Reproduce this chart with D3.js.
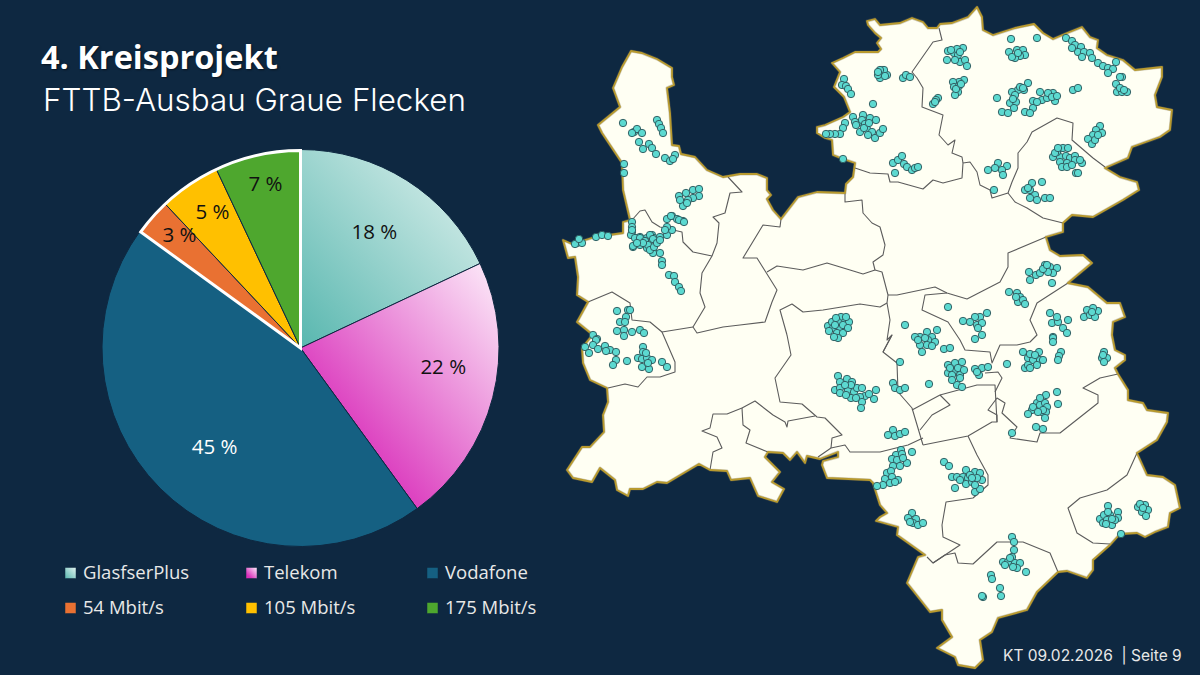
<!DOCTYPE html>
<html lang="de"><head><meta charset="utf-8">
<script src="https://cdnjs.cloudflare.com/ajax/libs/d3/7.8.5/d3.min.js"></script>
<style>html,body{margin:0;padding:0;background:#0E2841;overflow:hidden}svg{display:block}</style>
</head><body><svg id="c" width="1200" height="675"></svg>
<script>
const categories=["GlasfserPlus","Telekom","Vodafone","54 Mbit/s","105 Mbit/s","175 Mbit/s"];
const shares=[18,22,45,3,5,7];
const titleLine="4. Kreisprojekt";
const subtitleLine="FTTB-Ausbau Graue Flecken";
const footerLine="KT 09.02.2026  | Seite 9";

const mapOutline=[[631,51],[642,53],[657,59],[672,68],[672,77],[674,85],[667,88],[670,113],[672,145],[679,146],[681,154],[695,157],[707,170],[723,177],[740,174],[757,174],[767,178],[767,190],[771,195],[767,199],[773,210],[781,219],[798,197],[817,192],[845,193],[846,184],[853,177],[855,163],[843,159],[833,155],[832,140],[825,138],[817,133],[817,127],[825,125],[843,117],[850,112],[844,97],[834,87],[840,72],[832,63],[843,58],[855,52],[878,52],[881,49],[877,43],[881,38],[875,33],[868,25],[867,21],[875,19],[880,25],[900,23],[912,18],[923,22],[928,28],[937,28],[940,24],[952,23],[968,17],[977,7],[982,17],[983,30],[993,35],[1015,28],[1034,24],[1043,33],[1053,39],[1067,33],[1082,27],[1090,37],[1098,40],[1097,48],[1107,55],[1123,60],[1135,70],[1162,67],[1162,77],[1155,95],[1157,107],[1172,110],[1170,130],[1160,137],[1132,147],[1128,158],[1105,168],[1120,177],[1137,182],[1139,190],[1123,200],[1093,217],[1072,215],[1063,223],[1063,232],[1046,237],[1050,250],[1060,256],[1083,255],[1092,263],[1068,283],[1088,287],[1107,303],[1120,303],[1125,317],[1113,322],[1112,335],[1115,350],[1125,355],[1125,360],[1115,368],[1118,374],[1128,390],[1128,400],[1143,403],[1147,410],[1168,413],[1167,422],[1157,440],[1137,453],[1147,475],[1163,477],[1175,485],[1180,508],[1170,513],[1168,527],[1155,532],[1145,537],[1137,533],[1120,534],[1110,545],[1093,560],[1093,570],[1087,578],[1067,571],[1058,572],[1037,592],[1027,610],[998,618],[992,632],[980,640],[983,660],[975,668],[958,665],[955,657],[937,648],[952,637],[942,620],[942,610],[930,612],[907,583],[918,557],[925,555],[897,535],[898,527],[880,522],[876,521],[880,517],[887,513],[880,505],[873,483],[870,480],[827,478],[822,465],[823,461],[838,457],[838,452],[820,459],[807,456],[805,463],[797,452],[790,460],[783,453],[768,452],[765,457],[780,472],[772,482],[784,489],[777,502],[758,496],[750,478],[731,480],[727,471],[710,470],[699,464],[667,483],[657,482],[643,489],[630,489],[628,496],[617,490],[615,480],[600,468],[592,482],[573,478],[567,470],[582,447],[590,447],[604,432],[603,415],[608,402],[607,388],[590,380],[583,363],[582,348],[590,338],[593,335],[577,322],[588,302],[577,295],[578,277],[575,257],[568,258],[563,240],[572,244],[595,237],[623,233],[623,222],[630,220],[623,190],[622,163],[602,133],[598,125],[620,107],[613,88],[622,67]];

const districtA=[[728,177],[742,192],[730,193],[725,213],[713,217],[719,223],[717,243],[712,256],[702,273],[700,293],[705,307],[693,327],[697,333],[723,327],[740,325],[765,322],[772,302],[777,290],[757,258],[743,258],[763,225],[780,227],[781,219]];
const districtB=[[712,256],[693,252],[683,242],[682,232],[660,227],[652,222],[645,210],[640,211],[632,220]];
const districtC=[[588,302],[612,292],[630,303],[632,320],[650,322],[662,332],[693,327]];
const districtC2=[[662,332],[675,362],[675,372],[660,377],[647,377],[638,387],[625,384],[608,388]];
const districtD=[[767,272],[777,266],[803,270],[827,263],[850,270],[863,274],[875,270],[882,272],[888,295],[887,303],[890,320],[887,340],[892,335],[883,352],[897,363],[898,392],[912,408],[923,445]];
const districtE=[[845,193],[845,202],[862,200],[863,213],[872,223],[880,227],[885,245],[883,255],[873,262],[875,270]];
const districtF=[[855,168],[870,173],[888,174],[890,182],[898,182],[923,189],[933,180],[943,183],[962,178],[963,163],[970,162],[977,172],[980,185],[990,190],[992,198],[1008,193],[1012,182],[1018,168],[1018,153],[1027,142],[1032,132],[1057,118],[1073,123],[1072,140],[1093,158],[1105,167]];
const districtG=[[963,163],[962,157],[952,153],[955,140],[948,145],[939,135],[943,115],[922,107],[923,88],[917,78],[912,72],[933,42],[942,40],[939,28]];
const districtH=[[1008,193],[1015,202],[1027,208],[1043,218],[1063,223]];
const districtI=[[1046,237],[1008,253],[1008,267],[1000,282],[967,299],[947,293],[935,287],[897,295],[888,295]];
const districtJ=[[947,293],[925,295],[922,310],[948,322],[960,340],[965,350],[990,352],[992,363],[1000,345],[1017,345],[1030,342],[1037,335],[1030,320],[1037,303],[1068,283]];
const districtK=[[923,445],[968,436],[992,422],[997,422],[995,385],[977,385],[940,395],[912,410]];
const districtL=[[940,395],[950,405],[932,415],[920,430]];
const districtM=[[923,438],[908,445],[880,452],[850,452],[845,445],[831,448],[818,457]];
const districtN=[[968,436],[977,455],[988,475],[988,485],[973,498],[946,502],[942,525],[943,537],[960,545],[933,563],[927,557]];
const districtO=[[933,563],[945,555],[955,553],[958,563],[973,564],[997,542],[1023,542],[1050,553],[1058,572]];
const districtP=[[1137,453],[1127,475],[1107,490],[1080,498],[1068,508],[1077,533],[1093,543],[1110,544]];
const districtQ=[[1118,374],[1100,378],[1083,388],[1098,395],[1098,403],[1060,433],[1040,433],[1037,442],[1010,438],[1017,427],[1002,413],[1005,403],[997,398],[988,410],[997,415],[997,422]];
const districtR=[[985,373],[998,372],[1002,378],[995,392]];
const districtS=[[787,335],[791,355],[775,378],[780,402],[802,404],[817,417],[825,418],[842,435],[832,438],[831,448]];
const districtT=[[742,408],[755,401],[773,415],[785,422],[787,427],[788,421],[815,416]];
const districtU=[[742,408],[743,425],[750,430],[746,443],[768,452]];
const districtV=[[742,408],[727,414],[713,414],[710,428],[702,431],[717,437],[722,448],[713,452],[710,470]];
const districtW=[[787,335],[780,310],[792,304],[803,312],[823,310],[860,304],[880,307],[887,303]];
const districtX=[[892,335],[883,352]];
const districtList=[districtA,districtB,districtC,districtC2,districtD,districtE,districtF,districtG,districtH,districtI,districtJ,districtK,districtL,districtM,districtN,districtO,districtP,districtQ,districtR,districtS,districtT,districtU,districtV,districtW,districtX];

const sitesNorthWest=[[657,120],[659,124],[661,128],[663,133],[623,123],[634,132],[637,129],[642,133],[632,133],[639,142],[643,149],[649,144],[652,148],[656,154],[665,158],[670,161],[675,155],[673,159],[624,164],[624,173],[679,196],[686,193],[693,190],[699,189],[699,196],[693,198],[688,200],[683,206],[687,203],[680,200],[577,243],[582,243],[575,244],[579,239],[596,237],[602,235],[608,236],[632,222],[632,227],[632,232],[631,235],[637,238],[633,247],[642,239],[647,238],[652,235],[654,238],[660,237],[667,235],[672,230],[667,227],[667,219],[672,216],[677,219],[683,221],[648,243],[645,241],[647,248],[653,250],[660,253],[662,261],[662,265],[653,253],[640,237],[669,275],[674,276],[675,282],[679,287],[681,291],[617,311],[628,310],[626,317],[620,322],[625,322],[617,331],[624,330],[632,332],[640,330],[644,333],[624,336],[630,310],[593,335],[597,339],[596,340],[593,345],[585,347],[589,353],[598,349],[605,346],[610,350],[606,351],[616,352],[616,360],[613,365],[627,361],[643,347],[643,352],[638,358],[642,359],[647,358],[652,360],[642,367],[649,369],[648,363],[662,362],[667,367],[646,353],[632,230],[635,238],[633,246],[640,238],[645,241],[650,235],[653,239],[671,216],[679,220],[684,222],[648,245],[650,250],[654,247],[665,230],[640,245],[643,243],[657,243],[660,240],[637,243]];
const sitesCentre=[[828,326],[832,322],[841,317],[845,322],[849,322],[838,322],[833,328],[840,329],[846,328],[837,333],[843,333],[838,338],[835,325],[843,325],[838,376],[840,382],[847,379],[852,382],[835,390],[840,388],[840,393],[848,390],[854,392],[857,388],[862,388],[865,396],[860,397],[862,402],[861,408],[874,399],[876,390],[851,385],[845,385],[836,318],[846,317],[829,331],[848,328],[834,337],[851,398],[856,398],[846,395],[869,394]];
const sitesNorth=[[844,79],[842,85],[846,86],[848,89],[851,94],[873,104],[853,117],[863,115],[870,118],[876,120],[858,123],[855,122],[860,132],[867,129],[872,132],[875,138],[880,133],[862,120],[845,123],[843,128],[840,134],[835,134],[830,134],[826,134],[843,159],[856,125],[865,124],[868,135],[864,128],[869,123],[883,74],[880,78],[887,75],[882,70],[878,75],[884,70],[885,76],[880,70],[878,72],[903,78],[906,75],[910,77],[883,129],[893,163],[895,173],[898,160],[902,156],[904,164],[907,167],[912,170],[915,168],[918,167],[948,51],[947,60],[954,53],[958,55],[963,48],[957,49],[960,62],[965,60],[967,66],[955,60],[960,52],[951,50],[964,80],[959,82],[953,82],[954,87],[959,86],[958,92],[955,95],[956,89],[961,84],[938,98],[936,100],[933,104],[935,102],[1011,39],[1037,38],[1066,38],[1009,52],[1017,50],[1023,50],[1025,55],[1020,56],[1015,58],[1012,57],[1018,53],[1072,41],[1075,45],[1081,47],[1078,52],[1084,52],[1090,53],[1082,57],[1092,58],[1098,63],[1103,66],[1108,68],[1113,69],[1108,73],[1116,62],[1072,48],[1122,77],[1120,77],[1116,84],[1117,92],[1122,92],[1127,92],[1120,88],[1124,90],[1073,90],[1078,88],[997,98],[1002,112],[1028,83],[1024,90],[1018,90],[1012,92],[1010,103],[1016,102],[1014,108],[1008,113],[1033,101],[1033,108],[1025,112],[1030,113],[1040,92],[1042,100],[1037,102],[1047,98],[1053,93],[1055,101],[1048,93],[1020,87],[1023,88],[1015,95],[1013,99],[1052,97],[1057,96],[1100,126],[1096,130],[1102,133],[1093,135],[1088,139],[1092,144],[1095,140],[1098,135],[1058,150],[1063,148],[1068,148],[1053,157],[1060,157],[1066,156],[1070,158],[1075,156],[1060,162],[1067,163],[1062,167],[1067,167],[1082,163],[1076,173],[1057,152],[1055,153],[1058,148],[1075,160],[1072,165],[1080,160],[1078,173],[998,163],[1007,166],[995,168],[988,170],[1002,170],[1003,175],[994,190],[1042,182],[1032,183],[1025,190],[1030,190],[1035,195],[1030,198],[1045,198],[1050,198],[1037,200],[1028,188]];
const sitesEast=[[1029,272],[1030,280],[1036,275],[1040,273],[1045,265],[1050,267],[1057,268],[1053,273],[1048,272],[1052,283],[1043,269],[1047,265],[1009,292],[1017,293],[1020,297],[1018,302],[1023,300],[1025,304],[1016,297],[948,307],[963,321],[905,325],[987,313],[980,317],[975,317],[970,322],[977,325],[982,323],[978,328],[982,335],[975,339],[927,332],[920,337],[915,337],[937,330],[932,337],[1050,313],[1052,323],[1058,322],[1057,317],[1068,320],[1063,328],[1067,333],[1053,337],[1098,311],[1093,308],[1087,310],[1084,317],[1090,315],[1095,317],[1092,312],[928,340],[922,352],[927,345],[935,342],[944,349],[950,348],[920,345],[925,338],[932,346],[918,340],[900,362],[929,384],[893,383],[895,388],[900,390],[905,388],[948,365],[948,373],[955,363],[962,362],[955,370],[960,375],[952,375],[957,385],[962,387],[960,378],[950,368],[958,368],[964,370],[952,380],[975,369],[979,375],[982,368],[988,367],[977,372],[1007,364],[1023,352],[1039,352],[1028,358],[1033,360],[1040,360],[1025,368],[1043,360],[1028,365],[1030,354],[1035,355],[1037,365],[1030,368],[1053,338],[1053,342],[1061,352],[1059,356],[1058,360],[1104,352],[1102,358],[1107,358],[1104,362],[1103,355],[1057,392],[1058,404],[1046,395],[1037,403],[1040,405],[1045,403],[1047,407],[1032,410],[1028,414],[1042,412],[1046,412],[1045,418],[1033,407],[1040,398],[1043,410],[1038,412],[1012,433],[1036,427],[1043,429]];
const sitesSouth=[[893,430],[888,435],[895,436],[900,434],[905,432],[901,450],[912,452],[896,455],[892,459],[897,460],[907,463],[893,466],[900,466],[887,473],[891,471],[885,479],[892,477],[898,480],[883,485],[877,486],[890,483],[895,482],[902,454],[903,458],[944,462],[949,466],[952,477],[957,477],[963,477],[966,470],[968,478],[966,484],[972,482],[975,472],[980,473],[982,480],[977,478],[955,488],[975,492],[980,489],[970,475],[972,478],[975,485],[960,480],[912,513],[908,518],[916,519],[913,523],[918,525],[923,523],[910,522],[1108,506],[1100,519],[1104,515],[1110,515],[1118,512],[1118,518],[1103,523],[1112,525],[1115,520],[1121,534],[1107,520],[1108,512],[1112,519],[1106,524],[1138,507],[1145,505],[1148,510],[1142,512],[1146,516],[1140,504],[1143,508],[1012,537],[1014,542],[1014,550],[1012,557],[1003,562],[1008,562],[1015,563],[1020,563],[1017,568],[1026,572],[1005,565],[1010,558],[1013,567],[991,575],[992,579],[1000,588],[1001,596],[983,597],[982,596]];

const svg=d3.select("#c");
const NAVY="#0E2841";
svg.append("rect").attr("width",1200).attr("height",675).attr("fill",NAVY);

/* map */
const mapX=d3.scaleLinear().domain([560,1200]).range([560,1200]);
const mapY=d3.scaleLinear().domain([0,675]).range([0,675]);
const pathOf=d3.line().x(d=>mapX(d[0])).y(d=>mapY(d[1])).curve(d3.curveLinear);
const mapG=svg.append("g");
const closed=pathOf(mapOutline)+"Z";
mapG.append("path").attr("d",closed).attr("fill","#FFFFF3").attr("stroke","none");
mapG.selectAll("path.district").data(districtList).join("path").attr("class","district")
  .attr("d",pathOf).attr("fill","none").attr("stroke","#5c5c5c").attr("stroke-width",1.1).attr("stroke-linejoin","round");
mapG.append("path").attr("d",closed).attr("fill","none").attr("stroke","#77705a").attr("stroke-opacity",.35).attr("stroke-width",3).attr("stroke-linejoin","round");
mapG.append("path").attr("d",closed).attr("fill","none").attr("stroke","#B89A2E").attr("stroke-width",1.8).attr("stroke-linejoin","round");
const allSites=[...sitesNorthWest,...sitesCentre,...sitesNorth,...sitesEast,...sitesSouth];
mapG.selectAll("circle").data(allSites).join("circle")
  .attr("cx",d=>mapX(d[0])).attr("cy",d=>mapY(d[1])).attr("r",3.7)
  .attr("fill","#5CD9D0").attr("stroke","#2B5458").attr("stroke-width",.9);

/* gradients */
const defs=svg.append("defs");
function grad(id,a,b,start){const g=defs.append("linearGradient").attr("id",id).attr("x1",0).attr("y1",1).attr("x2",1).attr("y2",0);
  g.append("stop").attr("offset",start).attr("stop-color",a);g.append("stop").attr("offset","100%").attr("stop-color",b);}
grad("gGlas","#58B7AF","#E3F3F0","0%");
grad("gTel","#D92FBA","#FDEEFA","22%");
const fills=["url(#gGlas)","url(#gTel)","#156082","#E97132","#FFC000","#4EA72E"];
const textColors=["#111","#111","#fff","#111","#111","#111"];

/* pie */
const cx=300.5,cy=348,R=198.5;
const pieG=svg.append("g").attr("transform",`translate(${cx},${cy})`);
const arcs=d3.pie().sort(null).value(d=>d)(shares);
const arcGen=d3.arc().innerRadius(0).outerRadius(R);
pieG.selectAll("path.slice").data(arcs).join("path").attr("class","slice")
  .attr("d",arcGen).attr("fill",(d,i)=>fills[i]).attr("stroke",NAVY).attr("stroke-width",1);
const outlineArc=d3.arc().innerRadius(0).outerRadius(R-1);
pieG.append("path").attr("d",outlineArc({startAngle:arcs[3].startAngle,endAngle:arcs[5].endAngle}))
  .attr("fill","none").attr("stroke","#fff").attr("stroke-width",3).attr("stroke-linejoin","miter");
/* label placement: radius and angular nudge per slice */
const labelRadius=[138,144,131,165.6,162,168];
const labelTurn=[0,-6.8,-4,1.6,1.3,0.6];
pieG.selectAll("text").data(arcs).join("text")
  .attr("x",(d,i)=>labelRadius[i]*Math.sin((d.startAngle+d.endAngle)/2+labelTurn[i]*Math.PI/180))
  .attr("y",(d,i)=>-labelRadius[i]*Math.cos((d.startAngle+d.endAngle)/2+labelTurn[i]*Math.PI/180))
  .attr("dy","0.35em").attr("text-anchor","middle").attr("font-family","'Open Sans',sans-serif").attr("font-size",20.5)
  .attr("fill",(d,i)=>textColors[i]).text(d=>d.data+" %");

/* legend */
const colX=d3.scalePoint().domain([0,1,2]).range([65,427]);
const rowY=d3.scalePoint().domain([0,1]).range([573,608]);
const leg=svg.append("g").selectAll("g").data(categories).join("g")
  .attr("transform",(d,i)=>`translate(${colX(i%3)},${rowY(Math.floor(i/3))})`);
leg.append("rect").attr("x",0).attr("y",-5.5).attr("width",11).attr("height",11).attr("fill",(d,i)=>fills[i]).attr("stroke",NAVY).attr("stroke-width",.5);
leg.append("text").attr("x",18).attr("dy","0.35em").attr("font-family","'Open Sans',sans-serif").attr("font-size",18.5)
  .attr("fill","#E8E8E8").text(d=>d);

/* titles */
svg.append("text").attr("x",41).attr("y",69).attr("font-family","'Open Sans',sans-serif").attr("font-weight",700).attr("font-size",32.5).attr("fill","#fff").style("text-shadow","1px 1px 2px rgba(0,0,0,.55)").text(titleLine);
svg.append("text").attr("x",43).attr("y",111).attr("font-family","'Inter',sans-serif").attr("font-weight",300).attr("font-size",31.4).attr("fill","#fff").text(subtitleLine);
svg.append("text").attr("x",1003).attr("y",661).attr("font-family","'Inter',sans-serif").attr("font-size",15.5).attr("fill","#E8E8E8").style("white-space","pre").text(footerLine);
</script></body></html>
